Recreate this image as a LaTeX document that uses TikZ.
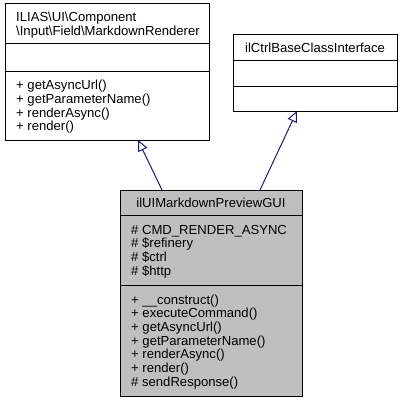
\documentclass[tikz,border=0pt]{standalone}
\usepackage{fontspec}
\setmainfont{Liberation Sans}
\usetikzlibrary{arrows.meta}
\definecolor{edgeblue}{HTML}{191970}
\definecolor{guigray}{HTML}{BFBFBF}

\begin{document}
\begin{tikzpicture}[x=1pt,y=-1pt,
  every node/.style={font=\fontsize{13.1}{14}\selectfont},
  classbox/.style={draw=black,line width=1pt,anchor=north west,inner sep=0pt,outer sep=0pt},
  member/.style={anchor=base west,inner sep=0pt},
  classname/.style={anchor=base,inner sep=0pt},
  sep/.style={line width=1pt},
  inherit/.style={draw=edgeblue,line width=1pt,-{Triangle[open,length=11pt,width=10pt]}}]

  \useasboundingbox (0,0) rectangle (403,404);

  % base classes
  \node[classbox,minimum width=204pt,minimum height=136pt] (renderer) at (5,4) {};
  \draw[sep] (5,44) -- (209,44);
  \draw[sep] (5,71) -- (209,71);
  \node[member] (renderer-n1) at (16,21.8)  {ILIAS\textbackslash UI\textbackslash Component};
  \node[member] (renderer-n2) at (16,35.6)  {\textbackslash Input\textbackslash Field\textbackslash MarkdownRenderer};
  \node[member] (renderer-m1) at (16,89.5)  {+ getAsyncUrl()};
  \node[member] (renderer-m2) at (16,103.3) {+ getParameterName()};
  \node[member] (renderer-m3) at (16,117.1) {+ renderAsync()};
  \node[member] (renderer-m4) at (16,130.9) {+ render()};

  \node[classbox,minimum width=164pt,minimum height=76pt] (ctrlbase) at (233,35) {};
  \draw[sep] (233,61) -- (397,61);
  \draw[sep] (233,86) -- (397,86);
  \node[classname] (ctrlbase-n) at (315,52.7) {ilCtrlBaseClassInterface};

  % the class itself
  \node[classbox,fill=guigray,minimum width=182pt,minimum height=206pt] (gui) at (120,190) {};
  \draw[sep] (120,215) -- (302,215);
  \draw[sep] (120,285) -- (302,285);
  \node[classname] (gui-n) at (211,207.2) {ilUIMarkdownPreviewGUI};
  \node[member] (gui-a1) at (131,234.2) {\# CMD\_RENDER\_ASYNC};
  \node[member] (gui-a2) at (131,247.9) {\# \$refinery};
  \node[member] (gui-a3) at (131,261.6) {\# \$ctrl};
  \node[member] (gui-a4) at (131,275.3) {\# \$http};
  \node[member] (gui-m1) at (131,304.0) {+ \_\_construct()};
  \node[member] (gui-m2) at (131,317.8) {+ executeCommand()};
  \node[member] (gui-m3) at (131,331.5) {+ getAsyncUrl()};
  \node[member] (gui-m4) at (131,345.2) {+ getParameterName()};
  \node[member] (gui-m5) at (131,358.9) {+ renderAsync()};
  \node[member] (gui-m6) at (131,372.6) {+ render()};
  \node[member] (gui-m7) at (131,386.3) {\# sendResponse()};

  % inheritance
  \draw[inherit] ([xshift=42pt]gui.north west) -- ([xshift=133pt]renderer.south west);
  \draw[inherit] ([xshift=140pt]gui.north west) -- ([xshift=64pt]ctrlbase.south west);
\end{tikzpicture}
\end{document}
